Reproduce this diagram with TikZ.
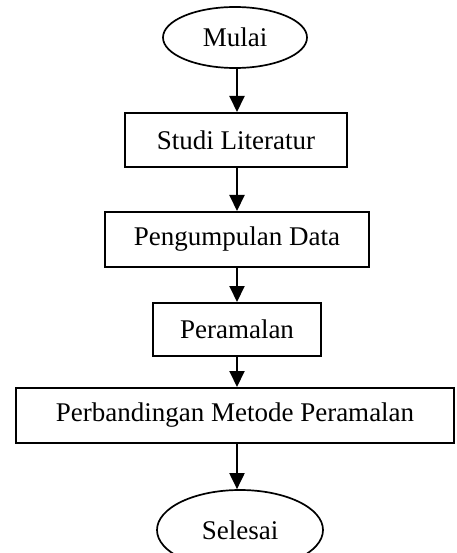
\documentclass[tikz,border=0pt]{standalone}
\usepackage{fontspec}
\setmainfont{Liberation Serif}
\usetikzlibrary{shapes.geometric,arrows.meta}
\begin{document}
\begin{tikzpicture}[x=1pt,y=-1pt,
  every node/.style={font=\fontsize{27}{31}\selectfont},
  stepbox/.style={draw,line width=2pt,rectangle,inner sep=0pt,anchor=center},
  term/.style={draw,line width=1.7pt,ellipse,inner sep=0pt},
  arr/.style={line width=2pt,-{Triangle[length=16pt,width=15pt]}}]
\useasboundingbox (0,0) rectangle (456,553);
\coordinate (ax) at (237,0);
\node[term,minimum width=144pt,minimum height=61pt] (mulai) at (235,37.5) {Mulai};
\node[stepbox,minimum width=222pt,minimum height=54pt] (studi) at (236,140) {Studi Literatur};
\node[stepbox,minimum width=264pt,minimum height=55pt] (data) at (237,239.5) {Pengumpulan Data};
\node[stepbox,minimum width=168pt,minimum height=53pt] (ramal) at (237,329.5) {Peramalan};
\node[stepbox,minimum width=438pt,minimum height=55pt] (banding) at (235,415.5) {Perbandingan Metode Peramalan};
\node[term,minimum width=166pt,minimum height=80pt] (selesai) at (240,530) {Selesai};
\draw[arr] (mulai.south -| ax) -- (studi.north -| ax);
\draw[arr] (studi.south -| ax) -- (data.north -| ax);
\draw[arr] (data.south -| ax) -- (ramal.north -| ax);
\draw[arr] (ramal.south -| ax) -- (banding.north -| ax);
\draw[arr] (banding.south -| ax) -- (selesai.north -| ax);
\end{tikzpicture}
\end{document}
